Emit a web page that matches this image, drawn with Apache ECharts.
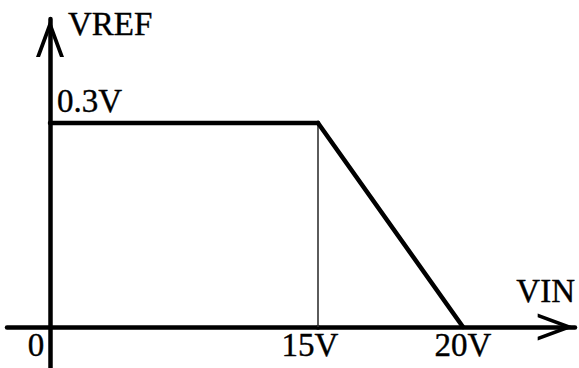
<!DOCTYPE html>
<html>
<head>
<meta charset="utf-8">
<script src="https://cdn.jsdelivr.net/npm/echarts@6/dist/echarts.min.js"></script>
<style>
html,body{margin:0;padding:0;background:#fff;}
#c{width:579px;height:368px;}
</style>
</head>
<body>
<div id="c"></div>
<script>
// ---- data ----
const vinValues = [0, 15, 20];          // VIN (V)
const vrefValues = [0.3, 0.3, 0];       // VREF (V)
const xTickValues = [0, 15, 20];
const xTickLabels = ['0', '15V', '20V'];
const yTickValues = [0.3];
const yTickLabels = ['0.3V'];
const guideX = [15, 15];
const guideY = [0, 0.3];
const breakX = 15;                      // schematic: axis is not to scale beyond 15V
const xAxisName = 'VIN';
const yAxisName = 'VREF';

// ---- chart ----
const FONT = 'Liberation Serif';
const FS = 33;
const chevron = 'path://M14,0 L28,38 L24,38 L14,10.9 L4,38 L0,38 Z';
const txt = {color: '#000', fontFamily: FONT, fontSize: FS, textBorderColor: '#000', textBorderWidth: 0.4};

const chart = echarts.init(document.getElementById('c'), null, {renderer: 'svg'});

const pts = vinValues.map((x, i) => [x, vrefValues[i]]);
const segA = pts.filter(p => p[0] <= breakX);
const segB = pts.filter(p => p[0] >= breakX);
const guideData = guideX.map((x, i) => [x, guideY[i]]);

function xLabel(v) {
  const i = xTickValues.indexOf(v);
  const t = i >= 0 ? xTickLabels[i] : '';
  if (v === 0) return '{z|' + t + '}';
  if (v === 15) return '{f|' + t + '}';
  return t;
}
const rich = {
  z: Object.assign({}, txt, {padding: [0, 28, 0, 0]}),
  f: Object.assign({}, txt, {padding: [0, 16, 0, 0]})
};

const yRange = {min: -0.0603, max: 0.4529};

const option = {
  animation: false,
  backgroundColor: '#ffffff',
  grid: [
    {left: 7, width: 311, top: 19, bottom: 0, containLabel: false, outerBoundsMode: 'none'},
    {left: 318, right: 4, top: 19, bottom: 0, containLabel: false, outerBoundsMode: 'none'}
  ],
  xAxis: [
    {
      gridIndex: 0,
      type: 'value',
      min: -2.406,
      max: breakX,
      position: 'bottom',
      offset: -41,
      splitLine: {show: false},
      axisTick: {show: false},
      axisLine: {show: true, onZero: false, lineStyle: {color: '#000', width: 4.5}},
      axisLabel: Object.assign({show: true, customValues: [0], margin: 1, formatter: xLabel, rich: rich}, txt)
    },
    {
      gridIndex: 1,
      type: 'value',
      min: breakX,
      max: 23.862,
      position: 'bottom',
      offset: -41,
      splitLine: {show: false},
      axisTick: {show: false},
      axisLine: {
        show: true, onZero: false,
        lineStyle: {color: '#000', width: 4.5},
        symbol: ['none', chevron],
        symbolSize: [27, 38],
        symbolOffset: [0, -19]
      },
      axisLabel: Object.assign({
        show: true, customValues: [15, 20], margin: 1, formatter: xLabel, rich: rich,
        showMinLabel: true
      }, txt),
      name: xAxisName,
      nameLocation: 'end',
      nameGap: 0,
      nameMoveOverlap: false,
      nameTextStyle: Object.assign({align: 'right', verticalAlign: 'bottom', padding: [0, 0, 20, 0]}, txt)
    }
  ],
  yAxis: [
    {
      gridIndex: 0,
      type: 'value',
      min: yRange.min,
      max: yRange.max,
      position: 'left',
      offset: -43,
      splitLine: {show: false},
      axisTick: {show: false},
      axisLine: {
        show: true, onZero: false,
        lineStyle: {color: '#000', width: 4.5},
        symbol: ['none', chevron],
        symbolSize: [28, 38],
        symbolOffset: [0, -19]
      },
      axisLabel: Object.assign({
        show: true,
        inside: true,
        customValues: yTickValues,
        margin: 7,
        align: 'left',
        verticalAlign: 'bottom',
        padding: [0, 0, 5, 0],
        formatter: function (v) {
          const i = yTickValues.indexOf(v);
          return i >= 0 ? yTickLabels[i] : '';
        }
      }, txt),
      name: yAxisName,
      nameLocation: 'end',
      nameGap: 12,
      nameMoveOverlap: false,
      nameTextStyle: Object.assign({align: 'left', verticalAlign: 'top', padding: [0, 0, 0, 18]}, txt)
    },
    {
      gridIndex: 1,
      type: 'value',
      min: yRange.min,
      max: yRange.max,
      show: false
    }
  ],
  series: [
    {
      type: 'line', xAxisIndex: 1, yAxisIndex: 1,
      data: guideData, symbol: 'none', silent: true, z: 1,
      lineStyle: {color: '#333', width: 1.6}
    },
    {
      type: 'line', xAxisIndex: 0, yAxisIndex: 0,
      data: segA, symbol: 'none', silent: true, z: 3,
      lineStyle: {color: '#000', width: 4.5, cap: 'round', join: 'miter'}
    },
    {
      type: 'line', xAxisIndex: 1, yAxisIndex: 1,
      data: segB, symbol: 'none', silent: true, z: 3,
      lineStyle: {color: '#000', width: 4.5, cap: 'round', join: 'miter'}
    }
  ]
};
chart.setOption(option);
</script>
</body>
</html>
